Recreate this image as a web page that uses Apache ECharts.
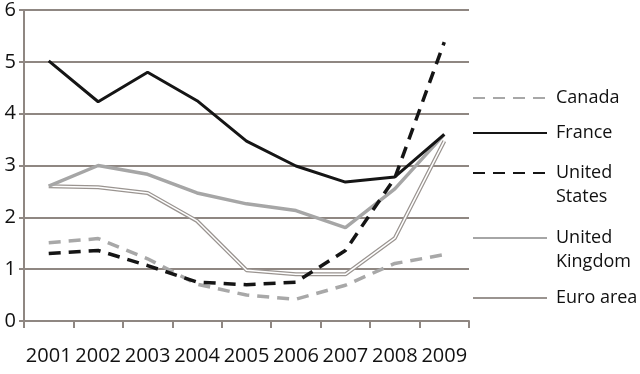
<!DOCTYPE html>
<html>
<head>
<meta charset="utf-8">
<script src="https://cdn.jsdelivr.net/npm/echarts@6/dist/echarts.min.js"></script>
<style>
  html, body { margin: 0; padding: 0; background: #fff; }
  #chart { width: 640px; height: 374px; }
</style>
</head>
<body>
<div id="chart"></div>
<script>
var years = ['2001', '2002', '2003', '2004', '2005', '2006', '2007', '2008', '2009'];
var canada = [1.51, 1.59, 1.2, 0.71, 0.5, 0.42, 0.69, 1.11, 1.28];
var france = [5.02, 4.23, 4.8, 4.25, 3.47, 2.99, 2.68, 2.78, 3.6];
var unitedStates = [1.3, 1.36, 1.07, 0.75, 0.7, 0.75, 1.36, 2.76, 5.38];
var unitedKingdom = [2.6, 3.0, 2.83, 2.47, 2.26, 2.13, 1.8, 2.55, 3.6];
var euroArea = [2.6, 2.58, 2.47, 1.93, 0.98, 0.9, 0.9, 1.6, 3.47];

var font = 'Open Sans';
var gridColor = '#8f8782';

var myChart = echarts.init(document.getElementById('chart'));

// one legend per entry so the wrapped names can sit where the original puts them
function legendItem(name, top, label) {
    return {
        data: [name],
        left: 472,
        top: top,
        padding: 0,
        orient: 'vertical',
        itemWidth: 74,
        itemHeight: 14,
        itemGap: 0,
        selectedMode: false,
        itemStyle: { opacity: 0 },
        formatter: function () { return label; },
        textStyle: { fontFamily: font, fontSize: 18, color: '#111', lineHeight: 24, padding: [0, 0, 0, 4] }
    };
}

var option = {
    animation: false,
    grid: { left: 24, right: 171, top: 8, bottom: 53 },
    legend: [
        legendItem('Canada', 86, 'Canada'),
        legendItem('France', 121, 'France'),
        legendItem('United States', 137, '\nUnited\nStates'),
        legendItem('United Kingdom', 202, '\nUnited\nKingdom'),
        legendItem('Euro area', 286, 'Euro area')
    ],
    xAxis: {
        type: 'category',
        data: years,
        boundaryGap: true,
        axisLine: { lineStyle: { color: gridColor, width: 2 } },
        axisTick: { show: true, length: 7, lineStyle: { color: gridColor, width: 2 } },
        axisLabel: { interval: 0, margin: 25, fontFamily: font, fontSize: 20, color: '#111' }
    },
    yAxis: {
        type: 'value',
        min: 0,
        max: 6,
        interval: 1,
        axisLine: { show: true, lineStyle: { color: gridColor, width: 2 } },
        axisTick: { show: true, length: 5, lineStyle: { color: gridColor, width: 2 } },
        splitLine: { lineStyle: { color: gridColor, width: 2 } },
        axisLabel: { margin: 8, fontFamily: font, fontSize: 20, color: '#111' }
    },
    series: [
        {
            name: 'Canada', type: 'line', data: canada, symbol: 'none', z: 3,
            lineStyle: { color: '#a8a8a8', width: 3.5, type: [12, 8] },
            itemStyle: { color: '#a8a8a8' }
        },
        {
            name: 'France', type: 'line', data: france, symbol: 'none', z: 5,
            lineStyle: { color: '#151515', width: 3 },
            itemStyle: { color: '#151515' }
        },
        {
            name: 'United States', type: 'line', data: unitedStates, symbol: 'none', z: 6,
            lineStyle: { color: '#151515', width: 3.5, type: [12, 8] },
            itemStyle: { color: '#151515' }
        },
        {
            name: 'United Kingdom', type: 'line', data: unitedKingdom, symbol: 'none', z: 4,
            lineStyle: { color: '#a6a6a6', width: 3.5 },
            itemStyle: { color: '#a6a6a6' }
        },
        {
            name: 'Euro area', type: 'line', data: euroArea, symbol: 'none', z: 2,
            lineStyle: { color: '#9a9490', width: 4 },
            itemStyle: { color: '#9a9490' }
        },
        {
            // white core that turns the euro area line into a double line
            name: 'Euro area core', type: 'line', data: euroArea, symbol: 'none', z: 2,
            silent: true,
            lineStyle: { color: '#ffffff', width: 1.5 }
        }
    ]
};

myChart.setOption(option);
</script>
</body>
</html>
